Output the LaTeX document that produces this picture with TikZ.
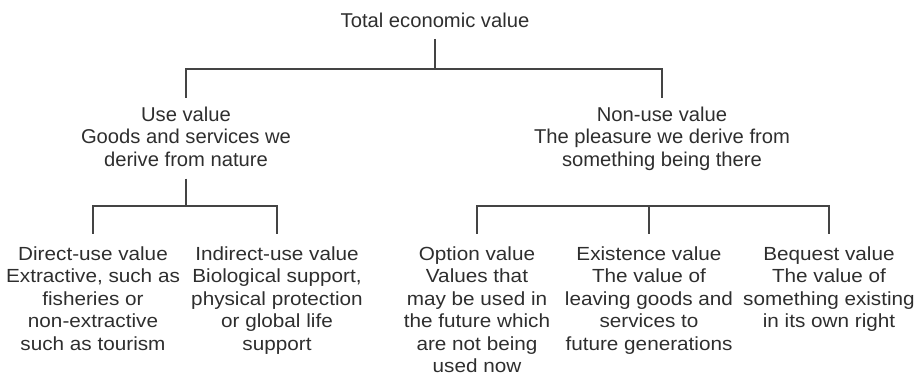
\documentclass[tikz,border=0pt]{standalone}
\usepackage{fontspec}
\newfontfamily\topfont{Liberation Sans}[FakeStretch=1.01]
\newfontfamily\botfont{Liberation Sans}[FakeStretch=1.09]
\definecolor{txt}{HTML}{2E2E2E}
\definecolor{ln}{HTML}{444444}
\tikzset{
  upper/.style={font=\topfont\fontsize{20}{22.5}\selectfont, align=center, inner sep=0pt, text=txt},
  leaf/.style={font=\botfont\fontsize{19}{22.5}\selectfont, align=center, inner sep=0pt, text=txt},
  conn/.style={draw=ln, line width=1.1pt}
}
\begin{document}
\begin{tikzpicture}[x=1pt,y=-1pt]
\useasboundingbox (0,0) rectangle (918,379);
\node[upper, anchor=base] (title) at (435,28) {Total economic value};
\node[upper, anchor=north] (use) at (186,106.6) {Use value\\Goods and services we\\derive from nature};
\node[upper, anchor=north] (nonuse) at (662,106.6) {Non-use value\\The pleasure we derive from\\something being there};
\node[leaf, anchor=north] (direct) at (93,246.3) {Direct-use value\\Extractive, such as\\fisheries or\\non-extractive\\such as tourism};
\node[leaf, anchor=north] (indirect) at (277,246.3) {Indirect-use value\\Biological support,\\physical protection\\or global life\\support};
\node[leaf, anchor=north] (option) at (477,246.3) {Option value\\Values that\\may be used in\\the future which\\are not being\\used now};
\node[leaf, anchor=north] (exist) at (649,246.3) {Existence value\\The value of\\leaving goods and\\services to\\future generations};
\node[leaf, anchor=north] (bequest) at (829,246.3) {Bequest value\\The value of\\something existing\\in its own right};
\coordinate (j0) at (435,69);
\coordinate (j1) at (186,206);
\coordinate (j2) at (649,206);
% top level
\draw[conn] ([yshift=-11pt]title.base) -- (j0);
\draw[conn] ([yshift=8.6pt]use.north) -- (use.north |- j0) -- (nonuse.north |- j0) -- ([yshift=8.6pt]nonuse.north);
% use value branch
\draw[conn] ([yshift=-12pt]use.south) -- (j1);
\draw[conn] ([yshift=12.3pt]direct.north) -- (direct.north |- j1) -- (indirect.north |- j1) -- ([yshift=12.3pt]indirect.north);
% non-use value branch
\draw[conn] ([yshift=12.3pt]option.north) -- (option.north |- j2) -- (bequest.north |- j2) -- ([yshift=12.3pt]bequest.north);
\draw[conn] (j2) -- ([yshift=12.3pt]exist.north);
\end{tikzpicture}
\end{document}
